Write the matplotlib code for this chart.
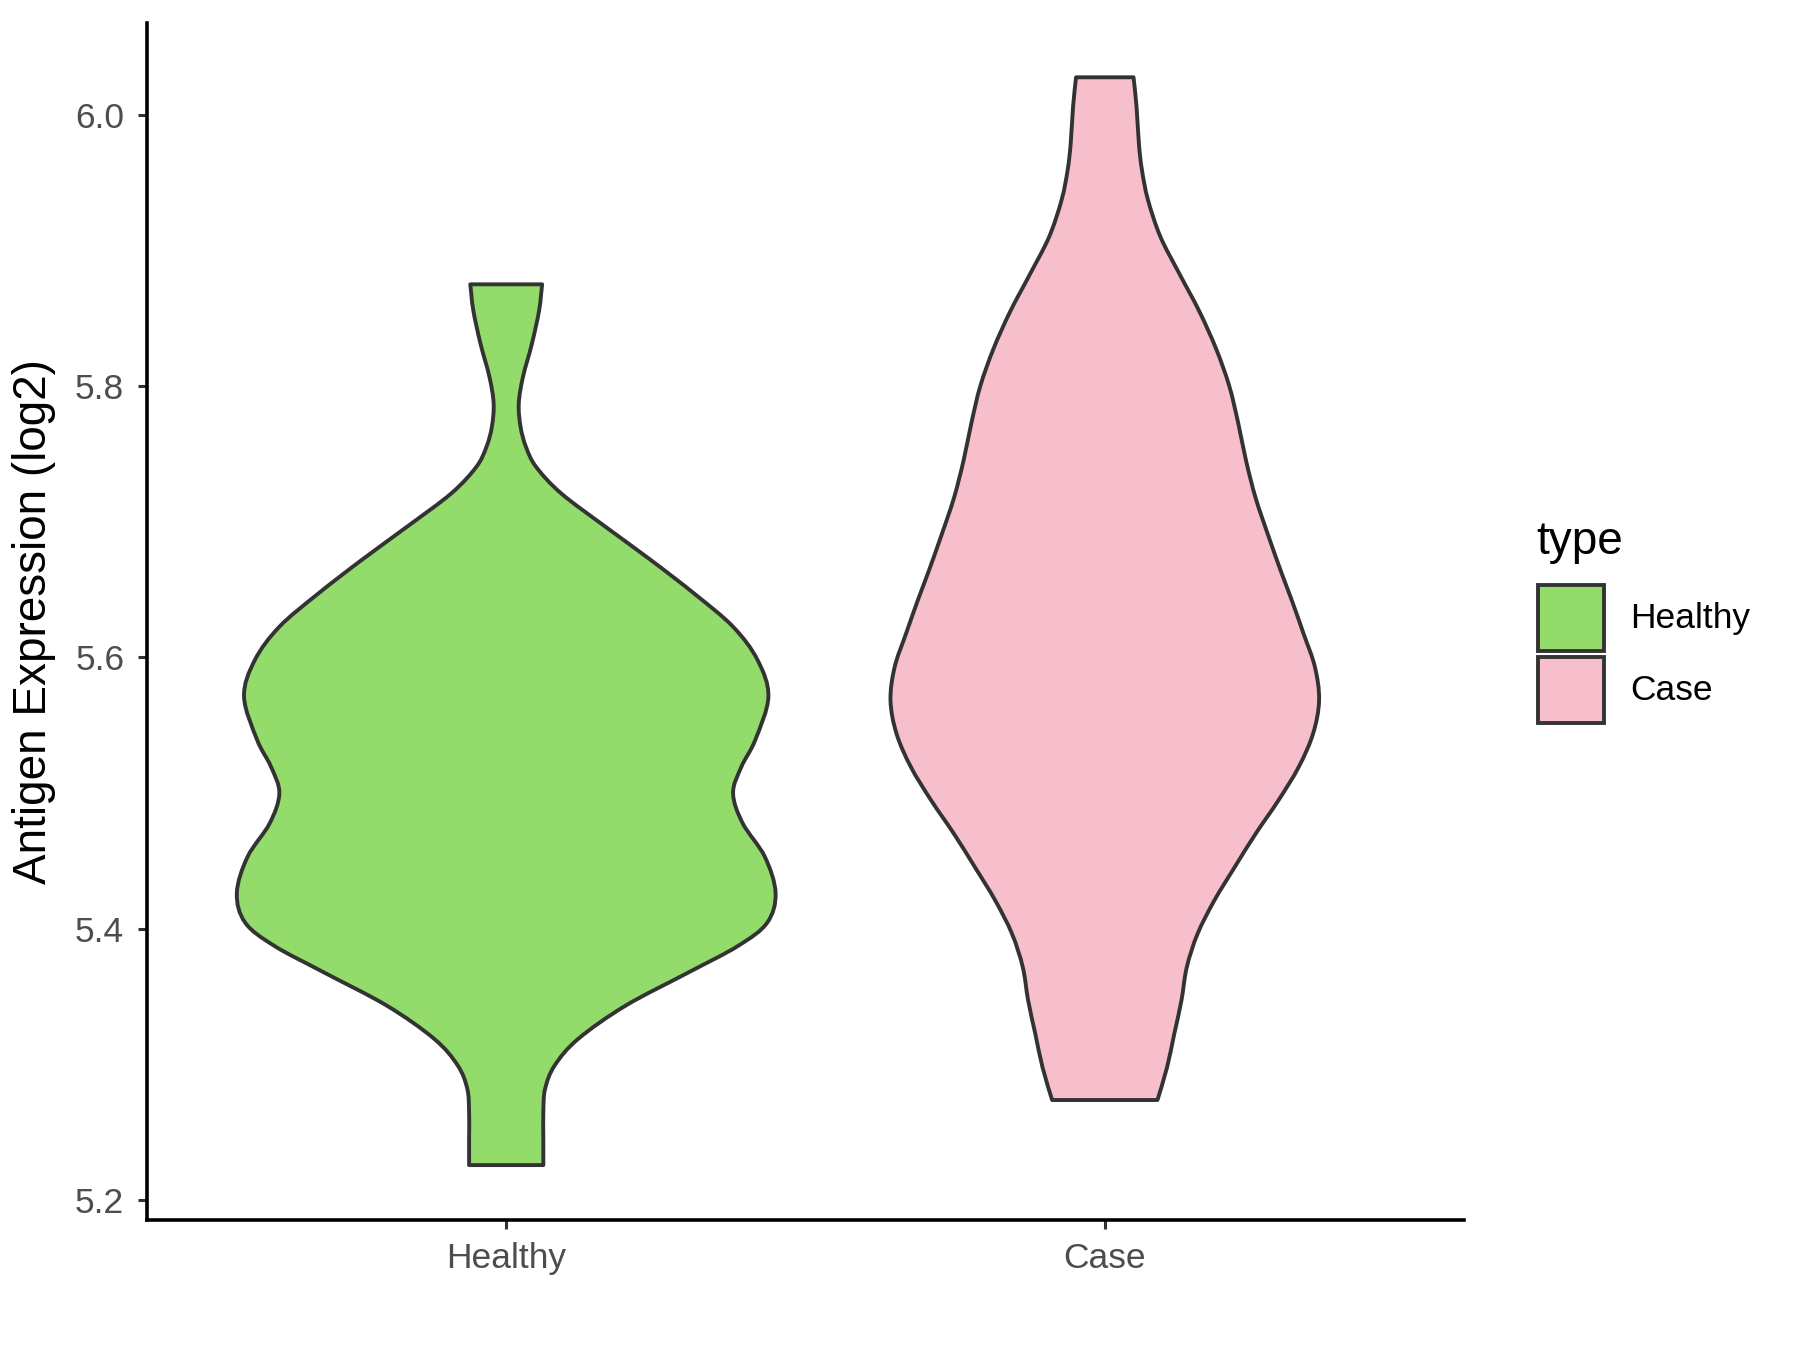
import matplotlib
matplotlib.use("Agg")
import matplotlib.pyplot as plt
from matplotlib.patches import Rectangle, PathPatch
from matplotlib.path import Path

plt.rcParams['font.family'] = ['Liberation Sans', 'DejaVu Sans']

# groups and colours
groups = ['Healthy', 'Case']
fills = ['#93DB6B', '#F7BFCB']
edge = '#333333'

# violin outlines: expression value and half width (x units)
healthy_y = [5.2255, 5.245, 5.2647, 5.2818, 5.299, 5.3185, 5.343, 5.3675, 5.3871,
             5.4043, 5.4263, 5.453, 5.4777, 5.4998, 5.5194, 5.539, 5.571,
             5.598, 5.6226, 5.6471, 5.6717, 5.6963, 5.7209, 5.7405, 5.7553, 5.770,
             5.7873, 5.8069, 5.8315, 5.856, 5.8752]
healthy_w = [0.062, 0.062, 0.062, 0.065, 0.081, 0.120, 0.199, 0.304, 0.387,
             0.436, 0.450, 0.432, 0.395, 0.379, 0.393, 0.416, 0.438,
             0.420, 0.379, 0.314, 0.242, 0.166, 0.092, 0.050, 0.033, 0.024,
             0.021, 0.028, 0.043, 0.055, 0.060]

case_y = [5.2735, 5.2976, 5.3222, 5.3468, 5.3715, 5.3961, 5.4207, 5.4453, 5.4699,
          5.4945, 5.5192, 5.5438, 5.5684, 5.593, 5.6176, 5.6426, 5.6626, 5.690,
          5.7176, 5.7451, 5.7726, 5.8001, 5.8276, 5.8552, 5.8827, 5.9102, 5.9377,
          5.9597, 5.9789, 6.0064, 6.0279]
case_w = [0.088, 0.104, 0.116, 0.128, 0.137, 0.155, 0.183, 0.217, 0.252,
          0.290, 0.324, 0.348, 0.358, 0.351, 0.332, 0.312, 0.295, 0.273,
          0.252, 0.236, 0.223, 0.208, 0.186, 0.158, 0.125, 0.093, 0.072,
          0.062, 0.057, 0.053, 0.048]

y_ticks = [5.2, 5.4, 5.6, 5.8, 6.0]
y_label = 'Antigen Expression (log2)'
legend_title = 'type'


def smooth_chain(pts):
    # bezier segments through the points (catmull-rom tangents)
    verts = []
    codes = []
    n = len(pts)
    for i in range(n - 1):
        p0 = pts[max(i - 1, 0)]
        p1 = pts[i]
        p2 = pts[i + 1]
        p3 = pts[min(i + 2, n - 1)]
        c1 = (p1[0] + (p2[0] - p0[0]) / 6, p1[1] + (p2[1] - p0[1]) / 6)
        c2 = (p2[0] - (p3[0] - p1[0]) / 6, p2[1] - (p3[1] - p1[1]) / 6)
        verts += [c1, c2, p2]
        codes += [Path.CURVE4] * 3
    return verts, codes


def violin_path(pos, ys, ws):
    right = [(pos + w, y) for y, w in zip(ys, ws)]
    left = [(pos - w, y) for y, w in zip(ys, ws)][::-1]
    verts = [right[0]]
    codes = [Path.MOVETO]
    v, c = smooth_chain(right)
    verts += v
    codes += c
    verts.append(left[0])
    codes.append(Path.LINETO)
    v, c = smooth_chain(left)
    verts += v
    codes += c
    verts.append(right[0])
    codes.append(Path.CLOSEPOLY)
    return Path(verts, codes)


fig = plt.figure(figsize=(18, 13.5), dpi=100)
ax = fig.add_axes([0.0817, 0.0963, 0.7316, 0.8867])

outlines = [(healthy_y, healthy_w), (case_y, case_w)]
for i, (ys, ws) in enumerate(outlines):
    patch = PathPatch(violin_path(i + 1, ys, ws), facecolor=fills[i],
                      edgecolor=edge, linewidth=2.8, joinstyle='round')
    ax.add_patch(patch)

ax.set_xlim(0.4, 2.6)
ax.set_ylim(5.185, 6.068)
ax.set_xticks([1, 2])
ax.set_xticklabels(groups)
ax.set_yticks(y_ticks)
ax.set_yticklabels([f'{v:.1f}' for v in y_ticks])
ax.tick_params(axis='both', length=6.5, width=2.2, color='#333333',
               labelsize=25.5, labelcolor='#4D4D4D')
ax.tick_params(axis='x', pad=9)
ax.tick_params(axis='y', pad=10)
ax.set_ylabel(y_label, fontsize=33, color='black', labelpad=14)

for side in ['top', 'right']:
    ax.spines[side].set_visible(False)
for side in ['left', 'bottom']:
    ax.spines[side].set_linewidth(2.6)
    ax.spines[side].set_color('black')

# legend drawn by hand in figure pixels
W, H = 1800, 1350
fig.text(1536 / W, 1 - 542 / H, legend_title, fontsize=33, va='center', ha='left')
key = 66
key_tops = [585, 657]
for i, name in enumerate(groups):
    top = key_tops[i]
    fig.add_artist(Rectangle((1538 / W, 1 - (top + key) / H), key / W, key / H,
                             transform=fig.transFigure, facecolor=fills[i],
                             edgecolor=edge, linewidth=2.8))
    fig.text(1630 / W, 1 - (top + key / 2) / H, name, fontsize=25.5,
             va='center', ha='left')

fig.savefig('out.png', dpi=100)
